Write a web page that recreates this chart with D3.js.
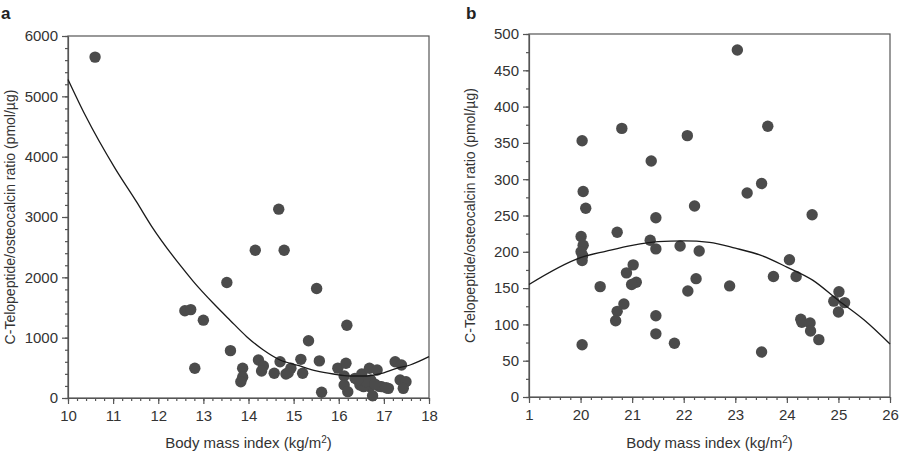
<!DOCTYPE html>
<html>
<head>
<meta charset="utf-8">
<script src="https://cdn.jsdelivr.net/npm/d3@7"></script>
<style>
  body { margin: 0; background: #fff; }
  svg { font-family: "Liberation Sans", Arial, sans-serif; }
  .axis path, .axis line { stroke: #555; stroke-width: 1.2; }
</style>
</head>
<body>
<script>
// Panel a: BMI vs ratio
const bmiA = [10.6, 14.67, 14.15, 14.79, 13.52, 15.51, 12.59, 12.72, 13.0, 16.18, 15.33, 13.6, 12.81, 13.87, 13.87, 13.83,
  14.22, 14.33, 14.29, 14.57, 14.7, 14.83, 14.94, 14.88, 15.16, 15.2, 15.57, 15.62, 15.98, 16.16, 16.12, 16.12, 16.2,
  16.36, 16.51, 16.47, 16.68, 16.85, 16.71, 16.69, 16.75, 16.95, 17.1, 17.25, 17.39, 17.36, 17.49, 17.43, 16.55, 16.6,
  16.9, 17.05, 16.42, 16.8];
const ratioA = [5650, 3130, 2450, 2450, 1915, 1815, 1445, 1465, 1290, 1205, 950, 785, 492, 492, 343, 270,
  630, 530, 447, 409, 602, 398, 492, 420, 641, 409, 615, 95, 495, 575, 365, 215, 105,
  326, 398, 215, 492, 464, 298, 188, 38, 188, 160, 602, 547, 298, 270, 160, 188, 274,
  192, 170, 300, 230];
const fitBmiA = [10, 10.38, 11.04, 11.52, 11.85, 12.48, 12.78, 13.22, 13.59, 13.96, 14.33, 14.7, 15.1, 15.5, 15.88,
  16.25, 16.62, 16.91, 17.28, 17.58, 18];
const fitRatioA = [5280, 4690, 3810, 3250, 2850, 2205, 1930, 1570, 1290, 1017, 796, 630, 540, 450, 398,
  365, 365, 398, 490, 547, 685];

// Panel b
const bmiB = [23.04, 23.63, 20.80, 22.07, 20.03, 21.37, 23.51, 23.23, 20.05, 20.10, 22.21, 21.46, 24.49, 20.71, 20.01,
  20.05, 20.01, 20.04, 20.03, 21.35, 21.46, 21.93, 22.30, 21.02, 20.89, 21.08, 20.99, 20.38, 22.24, 22.08, 22.89,
  23.74, 24.05, 24.18, 24.91, 25.01, 25.12, 25.0, 20.84, 20.71, 20.68, 21.46, 21.46, 21.82, 20.03, 23.51, 24.27,
  24.29, 24.45, 24.46, 24.62];
const ratioB = [478, 373, 370, 360, 353, 325, 294, 281, 283, 260, 263, 247, 251, 227, 221,
  209, 200, 195, 188, 216, 204, 208, 201, 182, 171, 158, 155, 152, 163, 146, 153,
  166, 189, 166, 132, 145, 130, 117, 128, 118, 105, 112, 87, 74, 72, 62, 107,
  103, 102, 91, 79];
const fitBmiB = [19, 20, 20.5, 21, 21.5, 22, 22.5, 23, 23.5, 24, 24.5, 25, 25.5, 26];
const fitRatioB = [155, 192, 201, 209, 214, 215, 213, 205, 195, 179, 161, 133, 106, 73];

const xTicksA = d3.range(10, 18.01, 1);
const xMinorA = d3.range(10, 18.01, 0.2);
const yTicksA = d3.range(0, 6001, 1000);
const yMinorA = d3.range(0, 6001, 200);
const xTicksB = d3.range(19, 26.01, 1);
const xMinorB = d3.range(19, 26.01, 0.2);
const yTicksB = d3.range(0, 501, 50);
const yMinorB = d3.range(0, 501, 25);

const yTitle = "C-Telopeptide/osteocalcin ratio (pmol/\u00b5g)";

let svg = d3.select("body").append("svg")
  .attr("width", 900).attr("height", 452);

// restyle axis text so it matches the figure
function styleAxis(sel) {
  sel.attr("font-family", null).attr("font-size", null);
  sel.selectAll("text").attr("font-size", 15).attr("fill", "#333");
}

function panel(o) {
  let x = d3.scaleLinear().domain(o.xDomain).range([o.left, o.right]);
  let y = d3.scaleLinear().domain(o.yDomain).range([o.bottom, o.top]);
  let g = svg.append("g");

  // minor ticks
  g.append("g").attr("class", "axis")
    .attr("transform", `translate(0,${o.bottom})`)
    .call(d3.axisBottom(x).tickValues(o.xMinor).tickSize(3).tickFormat(""))
    .select(".domain").remove();
  g.append("g").attr("class", "axis")
    .attr("transform", `translate(${o.left},0)`)
    .call(d3.axisLeft(y).tickValues(o.yMinor).tickSize(3).tickFormat(""))
    .select(".domain").remove();

  // major ticks
  g.append("g").attr("class", "axis")
    .attr("transform", `translate(0,${o.bottom})`)
    .call(d3.axisBottom(x).tickValues(o.xTicks).tickSize(6).tickSizeOuter(0).tickPadding(6).tickFormat(o.xFormat))
    .call(styleAxis);
  g.append("g").attr("class", "axis")
    .attr("transform", `translate(${o.left},0)`)
    .call(d3.axisLeft(y).tickValues(o.yTicks).tickSize(6).tickSizeOuter(0).tickPadding(4).tickFormat(d3.format("d")))
    .call(styleAxis);

  // frame
  g.append("rect")
    .attr("x", o.left).attr("y", o.top)
    .attr("width", o.right - o.left).attr("height", o.bottom - o.top)
    .attr("fill", "none").attr("stroke", "#555").attr("stroke-width", 1.2);

  // dots
  g.append("g").selectAll("circle")
    .data(o.xs.map((d, i) => [d, o.ys[i]]))
    .enter().append("circle")
    .attr("cx", d => x(d[0])).attr("cy", d => y(d[1]))
    .attr("r", 5.7).attr("fill", "#4b4b4b");

  // fitted curve
  g.append("path")
    .datum(o.fx.map((d, i) => [d, o.fy[i]]))
    .attr("d", d3.line().x(d => x(d[0])).y(d => y(d[1])).curve(d3.curveMonotoneX))
    .attr("fill", "none").attr("stroke", "#1a1a1a").attr("stroke-width", 1.3);

  // titles
  let xt = g.append("text")
    .attr("x", (o.left + o.right) / 2).attr("y", 448)
    .attr("text-anchor", "middle").attr("font-size", 15).attr("fill", "#333")
    .text("Body mass index (kg/m");
  xt.append("tspan").attr("baseline-shift", "super").attr("font-size", 10).text("2");
  xt.append("tspan").text(")");

  g.append("text")
    .attr("transform", `translate(${o.yTitleX},${(o.top + o.bottom) / 2}) rotate(-90)`)
    .attr("text-anchor", "middle").attr("font-size", 14).attr("fill", "#333")
    .text(yTitle);

  g.append("text")
    .attr("x", o.labelX).attr("y", 19)
    .attr("font-size", 17).attr("font-weight", "bold").attr("fill", "#222")
    .text(o.label);
}

panel({
  label: "a", labelX: 1, yTitleX: 15,
  left: 68, right: 429, top: 36, bottom: 398,
  xDomain: [10, 18], yDomain: [0, 6000],
  xTicks: xTicksA, xMinor: xMinorA, yTicks: yTicksA, yMinor: yMinorA,
  xFormat: d3.format("d"),
  xs: bmiA, ys: ratioA, fx: fitBmiA, fy: fitRatioA
});

panel({
  label: "b", labelX: 466, yTitleX: 475,
  left: 529, right: 890, top: 34, bottom: 397,
  xDomain: [19, 26], yDomain: [0, 500],
  xTicks: xTicksB, xMinor: xMinorB, yTicks: yTicksB, yMinor: yMinorB,
  xFormat: d => d === 19 ? "1" : d3.format("d")(d),
  xs: bmiB, ys: ratioB, fx: fitBmiB, fy: fitRatioB
});
</script>
</body>
</html>
